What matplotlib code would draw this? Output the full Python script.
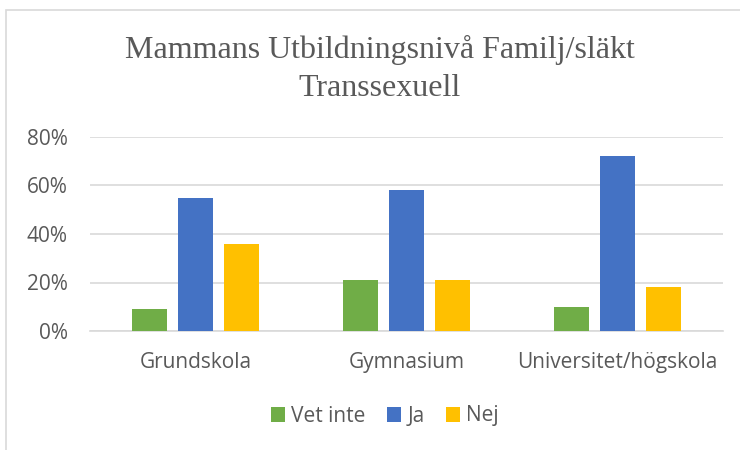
import numpy as np
import matplotlib.pyplot as plt
from matplotlib.patches import Rectangle

categories = ['Grundskola', 'Gymnasium', 'Universitet/högskola']
series_names = ['Vet inte', 'Ja', 'Nej']
vet_inte = [9, 21, 10]
ja = [55, 58, 72]
nej = [36, 21, 18]
colors = ['#70ad47', '#4472c4', '#ffc000']
yticks = [0, 20, 40, 60, 80]

fig = plt.figure(figsize=(7.4, 4.5), dpi=100)
fig.patch.set_facecolor('white')

# chart border, cut off at right and bottom like the reference
fig.patches.append(Rectangle((6 / 740, -0.1), 1.0, 1.1 - 10 / 450,
                             transform=fig.transFigure, fill=False,
                             edgecolor='#d9d9d9', linewidth=1.2))

ax = fig.add_axes([90 / 740, 1 - 331 / 450, (723 - 90) / 740, (331 - 137) / 450])

x = np.arange(len(categories))
width = 0.17
step = 0.218
for i, (vals, name) in enumerate(zip([vet_inte, ja, nej], series_names)):
    ax.bar(x + (i - 1) * step, vals, width, color=colors[i], label=name, zorder=3)

ax.set_xlim(-0.5, 2.5)
ax.set_ylim(0, 80)
ax.set_yticks(yticks)
ax.set_yticklabels([f'{v}%' for v in yticks])
ax.set_xticks(x)
ax.set_xticklabels(categories)
ax.yaxis.grid(True, color='#d9d9d9', linewidth=1.2, zorder=0)
for s in ['top', 'right', 'left']:
    ax.spines[s].set_visible(False)
ax.spines['bottom'].set_color('#d9d9d9')
ax.spines['bottom'].set_linewidth(1.2)
ax.tick_params(axis='both', length=0, colors='#595959', labelsize=15)
ax.tick_params(axis='x', pad=15)
ax.tick_params(axis='y', pad=16)
for lbl in ax.get_xticklabels() + ax.get_yticklabels():
    lbl.set_family('Open Sans')

fig.text(0.513, 1 - 50 / 450, 'Mammans Utbildningsnivå Familj/släkt', ha='center', va='center',
         family='Liberation Serif', fontsize=23, color='#595959')
fig.text(0.513, 1 - 89 / 450, 'Transsexuell', ha='center', va='center',
         family='Liberation Serif', fontsize=23, color='#595959')

fig.legend(loc='center', bbox_to_anchor=(0.52, 1 - 416 / 450), ncol=3, frameon=False,
           handlelength=0.7, handleheight=0.7, handletextpad=0.3, columnspacing=1.0,
           prop={'family': 'Open Sans', 'size': 15}, labelcolor='#595959')

fig.savefig('out.png', dpi=100)
